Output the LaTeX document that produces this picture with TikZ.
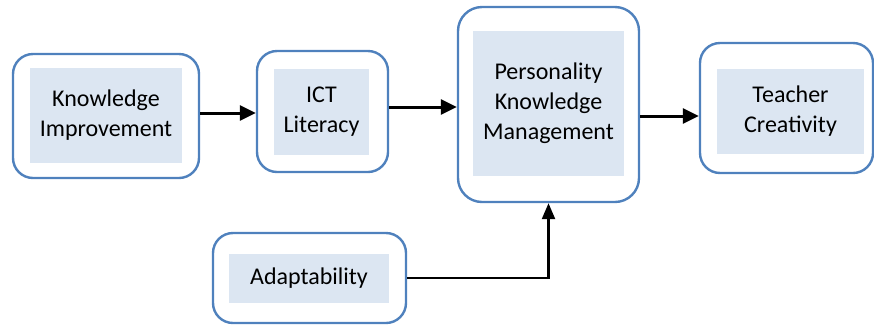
\documentclass[tikz,border=0pt]{standalone}
\usepackage{fontspec}
\setmainfont{Carlito}
\usetikzlibrary{arrows.meta}
\definecolor{boxblue}{RGB}{79,129,189}
\definecolor{innerblue}{RGB}{220,230,242}
\begin{document}
\begin{tikzpicture}[x=1pt,y=-1pt,
  outerbox/.style={draw=boxblue, line width=2.4pt, rounded corners=20pt, inner sep=0pt},
  innerbox/.style={fill=innerblue, inner sep=0pt, align=center, font=\fontsize{24}{30}\selectfont},
  arr/.style={draw=black, line width=3pt, -{Triangle[length=16pt,width=15pt]}},
  arrthin/.style={draw=black, line width=2.4pt, -{Triangle[length=16pt,width=13pt]}}]
\useasboundingbox (0,0) rectangle (874,325);
% outer boxes
\node[outerbox, minimum width=186pt, minimum height=124pt] (o1) at (106,116) {};
\node[outerbox, minimum width=131pt, minimum height=121pt] (o2) at (322.5,111.5) {};
\node[outerbox, minimum width=181pt, minimum height=195pt, rounded corners=24pt] (o3) at (548.5,104.5) {};
\node[outerbox, minimum width=173pt, minimum height=130pt] (o4) at (786.5,108) {};
\node[outerbox, minimum width=193pt, minimum height=90pt] (o5) at (309.5,278) {};
% inner boxes
\node[innerbox, minimum width=152pt, minimum height=95pt] (i1) at (106,115.5) {Knowledge\\Improvement};
\node[innerbox, minimum width=95pt, minimum height=86pt] (i2) at (321.5,112) {ICT\\Literacy};
\node[innerbox, minimum width=151pt, minimum height=145pt] (i3) at (548.5,103.5) {Personality\\Knowledge\\Management};
\node[innerbox, minimum width=147pt, minimum height=85pt] (i4) at (790.5,111.5) {Teacher\\Creativity};
\node[innerbox, minimum width=160pt, minimum height=49pt] (i5) at (309,278.5) {Adaptability};
% connector anchors
\coordinate (a1) at ([yshift=3pt]o1.east);
\coordinate (a2) at ([yshift=4.5pt]o2.east);
\coordinate (a3) at ([yshift=-11.5pt]o3.east);
% connectors
\draw[arr] (a1) -- (a1 -| o2.west);
\draw[arr] (a2) -- (a2 -| o3.west);
\draw[arr] (a3) -- (a3 -| o4.west);
\draw[arrthin] (o5.east) -| (o3.south);
\end{tikzpicture}
\end{document}
